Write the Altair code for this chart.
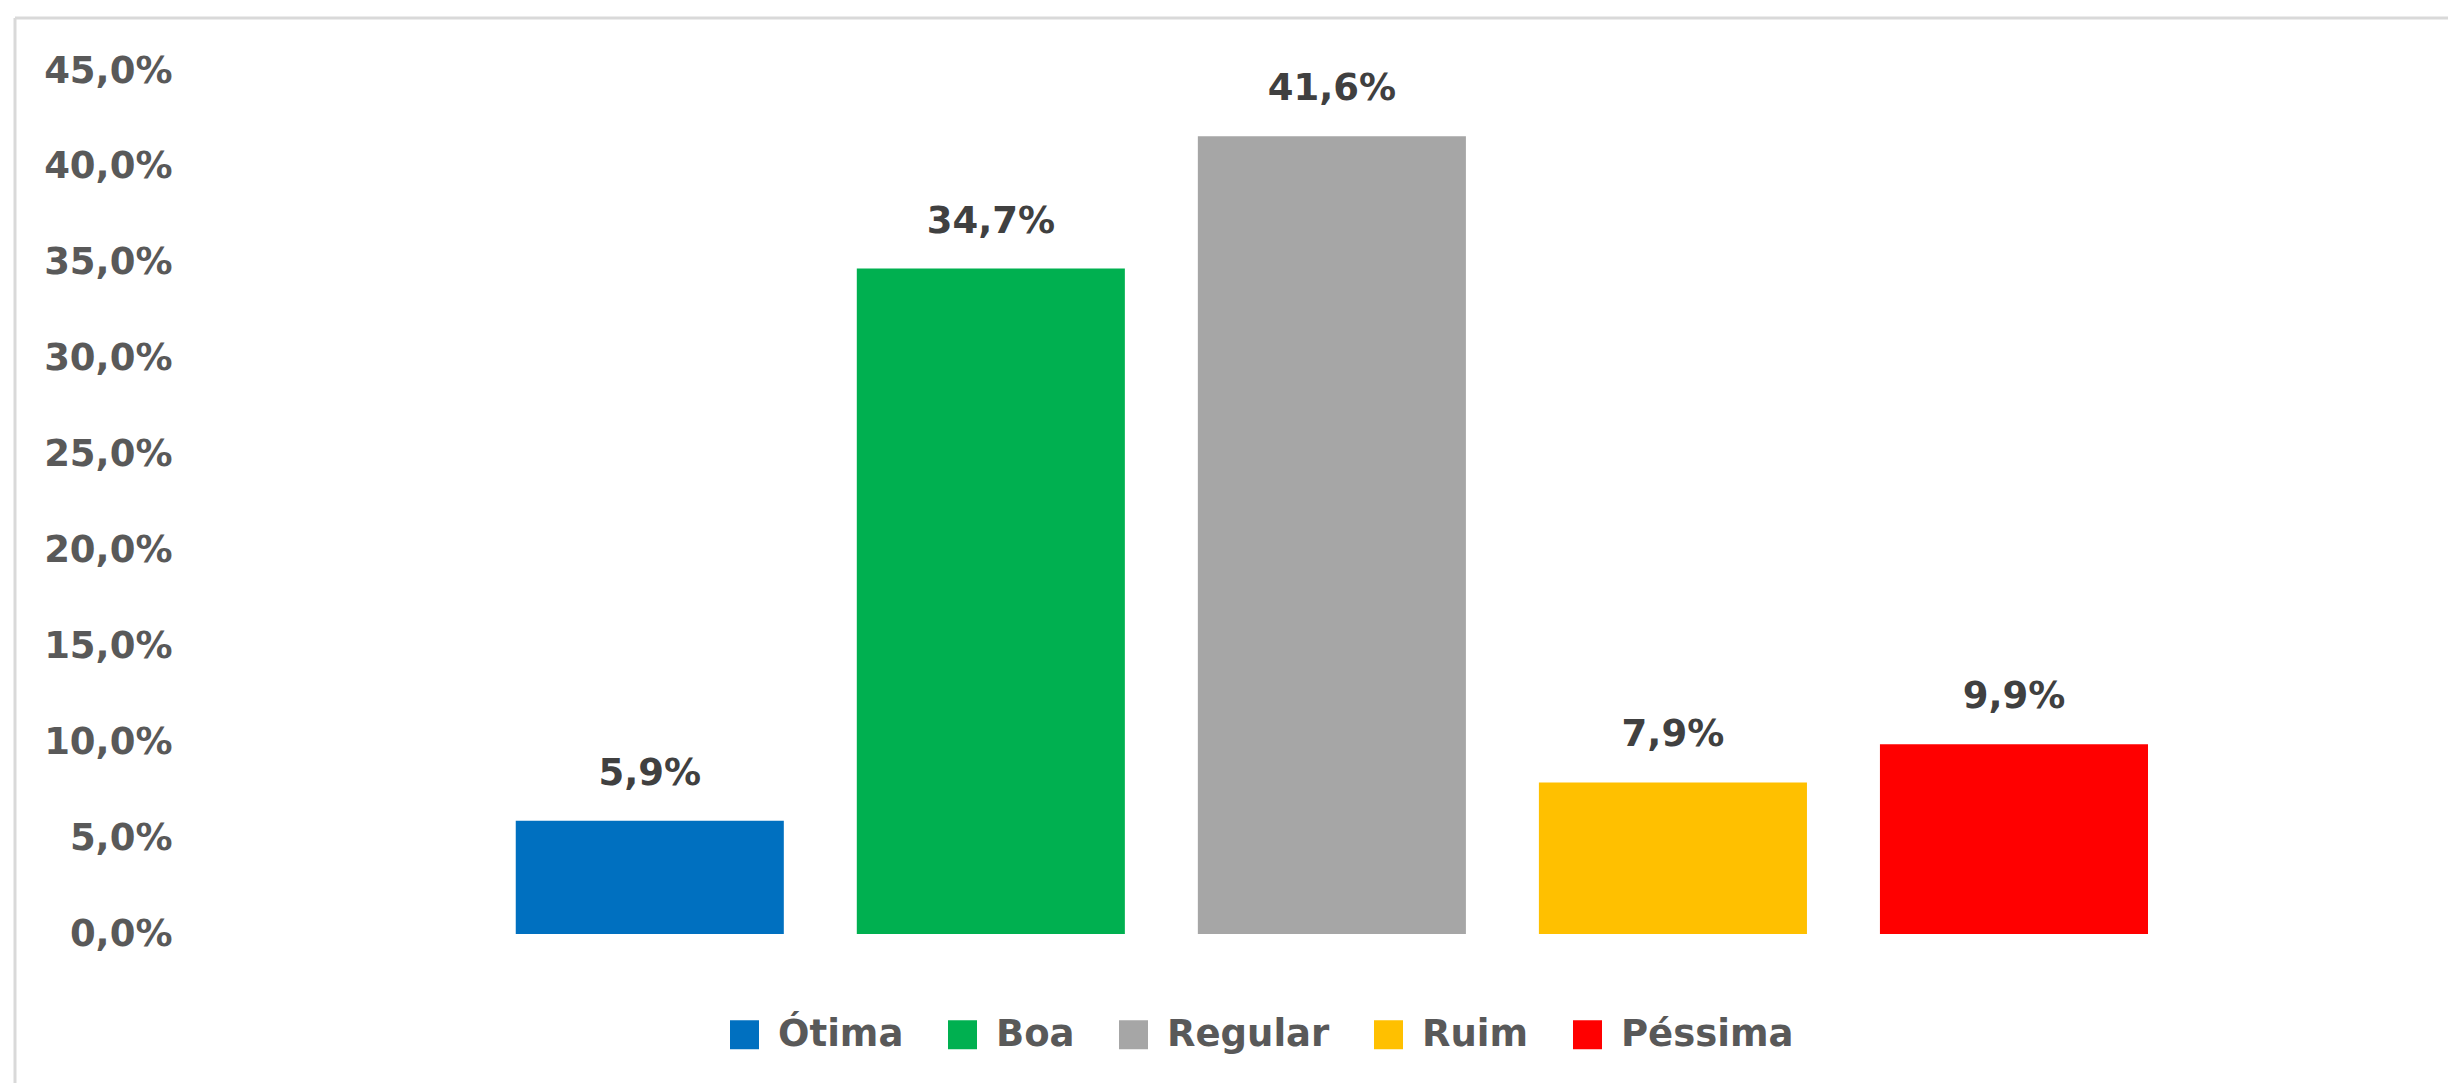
import altair as alt
import pandas as pd

categories = ["Ótima", "Boa", "Regular", "Ruim", "Péssima"]
values = [5.9, 34.7, 41.6, 7.9, 9.9]
labels = ["5,9%", "34,7%", "41,6%", "7,9%", "9,9%"]
colors = ["#0070C0", "#00B050", "#A6A6A6", "#FFC000", "#FF0000"]
y_ticks = [0, 5, 10, 15, 20, 25, 30, 35, 40, 45]

df = pd.DataFrame({"cat": categories, "val": values, "lab": labels})

FONT = "DejaVu Sans"
W, H = 2240, 863

x = alt.X("cat:N", sort=categories, axis=None,
          scale=alt.Scale(paddingInner=0.214, paddingOuter=0.891, align=0.536))
y = alt.Y("val:Q", axis=alt.Axis(
    values=y_ticks, labelExpr="replace(format(datum.value, '.1f'), '.', ',') + '%'",
    ticks=False, tickSize=0, domain=False, grid=False, labelPadding=18,
    labelFont=FONT, labelFontSize=37, labelFontWeight="bold", labelColor="#595959",
    title=None),
    scale=alt.Scale(domain=[0, 45], nice=False, zero=True))

base = alt.Chart(df)

bars = base.mark_bar().encode(
    x=x, y=y,
    color=alt.Color("cat:N", sort=categories,
                    scale=alt.Scale(domain=categories, range=colors),
                    legend=alt.Legend(
                        title=None, orient="none", direction="horizontal",
                        legendX=536, legendY=945, columns=5,
                        symbolType="square", symbolSize=841, symbolStrokeWidth=0,
                        labelOffset=15, columnPadding=40, padding=0, labelLimit=1000,
                        labelFont=FONT, labelFontSize=37, labelFontWeight="bold",
                        labelColor="#595959")),
)

text = base.mark_text(baseline="alphabetic", dy=-36, font=FONT, fontSize=37,
                      fontWeight="bold", color="#404040").encode(
    x=x, y=y, text="lab:N")

border_data = alt.Data(values=[{"k": 1}])
top_border = alt.Chart(border_data).mark_rule(color="#D9D9D9", strokeWidth=3).encode(
    x=alt.value(-175), x2=alt.value(2258), y=alt.value(-53))
left_border = alt.Chart(border_data).mark_rule(color="#D9D9D9", strokeWidth=3).encode(
    x=alt.value(-175), y=alt.value(-53), y2=alt.value(1012))

chart = alt.layer(top_border, left_border, bars, text).properties(
    width=W, height=H,
    autosize=alt.AutoSizeParams(type="none"),
    padding={"left": 182, "top": 63, "right": 18, "bottom": 149},
    background="white",
).configure_view(stroke=None)

chart.save("out.html", embed_options={"renderer": "svg", "actions": False})
